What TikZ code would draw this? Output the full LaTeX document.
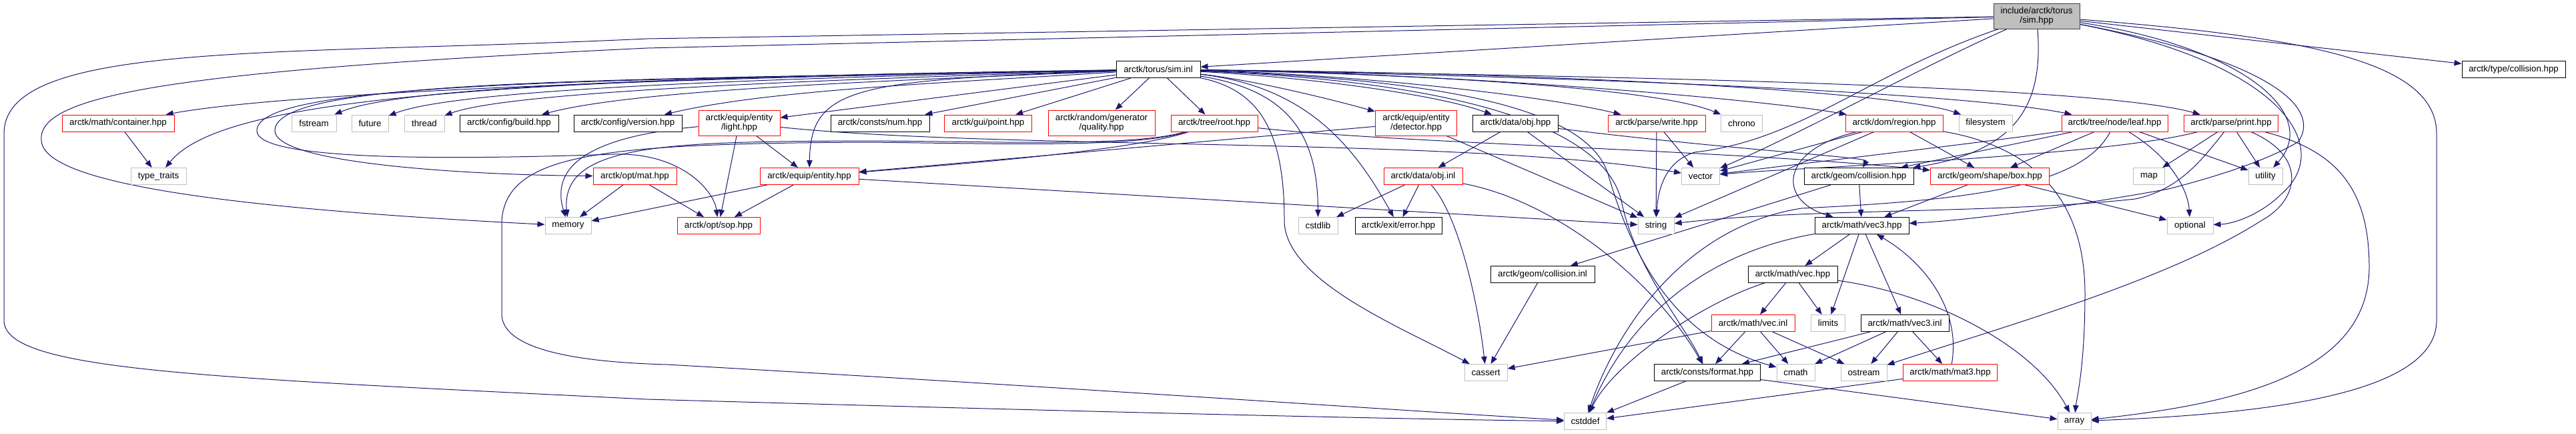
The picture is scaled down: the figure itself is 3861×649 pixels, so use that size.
\documentclass[tikz,border=0pt]{standalone}
\usepackage{fontspec}
\setmainfont{Liberation Sans}
\usepackage{tikz}
\usetikzlibrary{arrows.meta,backgrounds}
\definecolor{EdgeBlue}{RGB}{25,25,112}
\definecolor{SysGray}{RGB}{191,191,191}
\definecolor{MainEdge}{RGB}{64,64,64}

\tikzset{
	file/.style={rectangle, draw, fill=white, line width=1pt, minimum height=25pt,
		inner sep=1pt, align=center, font=\fontsize{13.3pt}{13.5pt}\selectfont},
	docfile/.style={file, draw=black},
	redfile/.style={file, draw=red},
	sysfile/.style={file, draw=SysGray},
	mainfile/.style={file, draw=MainEdge, fill=SysGray},
	dep/.style={EdgeBlue, line width=1pt, -{Triangle[length=11pt,width=8.5pt]}}
}

\begin{document}
\begin{tikzpicture}[x=1pt, y=-1pt]
		\useasboundingbox (0,0) rectangle (3861,649);
		
		% top
		\node[mainfile, minimum width=129, minimum height=38] (simhpp) at (3052.5,24) {include/arctk/torus\\/sim.hpp};
		\node[docfile, minimum width=126] (siminl) at (1736,104) {arctk/torus/sim.inl};
		\node[docfile, minimum width=155] (typecoll) at (3767.5,104) {arctk/type/collision.hpp};
		
		% row 1
		\node[redfile, minimum width=168] (container) at (177,184.5) {arctk/math/container.hpp};
		\node[sysfile, minimum width=67] (fstream) at (470.5,184.5) {fstream};
		\node[sysfile, minimum width=55] (future) at (554.5,184.5) {future};
		\node[sysfile, minimum width=60] (thread) at (636,184.5) {thread};
		\node[docfile, minimum width=148] (build) at (763,184.5) {arctk/config/build.hpp};
		\node[docfile, minimum width=162] (version) at (941,184.5) {arctk/config/version.hpp};
		\node[redfile, minimum width=122, minimum height=38] (light) at (1108,184) {arctk/equip/entity\\/light.hpp};
		\node[docfile, minimum width=148] (num) at (1319,184.5) {arctk/consts/num.hpp};
		\node[redfile, minimum width=131] (point) at (1481,184.5) {arctk/gui/point.hpp};
		\node[redfile, minimum width=160, minimum height=38] (quality) at (1651,184) {arctk/random/generator\\/quality.hpp};
		\node[redfile, minimum width=130] (root) at (1820,184.5) {arctk/tree/root.hpp};
		\node[redfile, minimum width=122, minimum height=38] (detector) at (2122.5,184) {arctk/equip/entity\\/detector.hpp};
		\node[docfile, minimum width=128] (objhpp) at (2271.5,184.5) {arctk/data/obj.hpp};
		\node[redfile, minimum width=146] (write) at (2483,184.5) {arctk/parse/write.hpp};
		\node[sysfile, minimum width=62] (chrono) at (2610.5,184.5) {chrono};
		\node[redfile, minimum width=146] (region) at (2839,184.5) {arctk/dom/region.hpp};
		\node[sysfile, minimum width=80] (filesystem) at (2976,184.5) {filesystem};
		\node[redfile, minimum width=159] (leaf) at (3169.5,184.5) {arctk/tree/node/leaf.hpp};
		\node[redfile, minimum width=141] (print) at (3344,184.5) {arctk/parse/print.hpp};
		
		% row 2
		\node[sysfile, minimum width=83] (typetraits) at (237.5,264) {type\_traits};
		\node[redfile, minimum width=125] (optmat) at (951.5,264) {arctk/opt/mat.hpp};
		\node[redfile, minimum width=148] (entity) at (1213,264) {arctk/equip/entity.hpp};
		\node[redfile, minimum width=118] (objinl) at (2133,264) {arctk/data/obj.inl};
		\node[sysfile, minimum width=57] (vector) at (2549,264) {vector};
		\node[docfile, minimum width=164] (geomcoll) at (2786,264) {arctk/geom/collision.hpp};
		\node[redfile, minimum width=178] (box) at (2982.5,264) {arctk/geom/shape/box.hpp};
		\node[sysfile, minimum width=47] (map) at (3221,264) {map};
		\node[sysfile, minimum width=51] (utility) at (3395.5,264) {utility};
		
		% row 3
		\node[sysfile, minimum width=69] (memory) at (851.5,338) {memory};
		\node[redfile, minimum width=124] (sop) at (1077,338) {arctk/opt/sop.hpp};
		\node[sysfile, minimum width=59] (cstdlib) at (1975.5,338) {cstdlib};
		\node[docfile, minimum width=130] (error) at (2096,338) {arctk/exit/error.hpp};
		\node[sysfile, minimum width=54] (string) at (2482,338) {string};
		\node[docfile, minimum width=141] (vec3hpp) at (2790.5,338) {arctk/math/vec3.hpp};
		\node[sysfile, minimum width=69] (optional) at (3282.5,338) {optional};
		
		% rows 4-7
		\node[docfile, minimum width=156] (collinl) at (2312,411) {arctk/geom/collision.inl};
		\node[docfile, minimum width=134] (vechpp) at (2687,411) {arctk/math/vec.hpp};
		\node[redfile, minimum width=125] (vecinl) at (2627.5,484) {arctk/math/vec.inl};
		\node[sysfile, minimum width=51] (limits) at (2740,484) {limits};
		\node[docfile, minimum width=132] (vec3inl) at (2855,484) {arctk/math/vec3.inl};
		\node[sysfile, minimum width=64] (cassert) at (2227,558) {cassert};
		\node[docfile, minimum width=159] (format) at (2559,558) {arctk/consts/format.hpp};
		\node[sysfile, minimum width=57] (cmath) at (2691.5,558) {cmath};
		\node[sysfile, minimum width=69] (ostream) at (2793.5,558) {ostream};
		\node[redfile, minimum width=141] (mat3) at (2923,558) {arctk/math/mat3.hpp};
		\node[sysfile, minimum width=63] (cstddef) at (2376,631) {cstddef};
		\node[sysfile, minimum width=50] (array) at (3109,631) {array};
		
		\begin{scope}[on background layer]
		\fill[white] (0,0) rectangle (3861,649);
		
		% sim.hpp
		\draw[dep] (simhpp) -- (siminl);
		\draw[dep] (simhpp) -- (970,72) .. controls (280,105) and (55,140) .. (62,210) .. controls (64,270) and (300,310) .. (memory);
		\draw[dep] (simhpp) -- (970,58) .. controls (420,84) and (6,60) .. (6,200) -- (6,480) .. controls (6,555) and (300,565) .. (970,598) .. controls (1600,616) and (2100,628) .. (cstddef);
		\draw[dep] (simhpp) -- (typecoll);
		\draw[dep] (simhpp) .. controls (2800,110) and (2700,210) .. (2540,228) .. controls (2495,242) and (2485,285) .. (string);
		\draw[dep] (simhpp) .. controls (2880,100) and (2700,200) .. (vector);
		\draw[dep] (simhpp) .. controls (3062,150) and (3030,225) .. (geomcoll);
		\draw[dep] (simhpp) .. controls (3400,90) and (3480,160) .. (3445,212) .. controls (3400,240) and (3320,265) .. (3250,283) .. controls (3100,310) and (2950,330) .. (vec3hpp);
		\draw[dep] (simhpp) .. controls (3420,95) and (3500,220) .. (3420,290) .. controls (3390,320) and (3350,335) .. (optional);
		\draw[dep] (simhpp) .. controls (3360,70) and (3480,170) .. (utility);
		\draw[dep] (simhpp) .. controls (3450,55) and (3652,90) .. (3652,200) -- (3652,480) .. controls (3652,590) and (3400,620) .. (array);
		
		% sim.inl, left side
		\draw[dep] (siminl) .. controls (1100,115) and (450,135) .. (container);
		\draw[dep] (siminl) .. controls (700,118) and (330,150) .. (typetraits);
		\draw[dep] (siminl) .. controls (1000,115) and (600,130) .. (fstream);
		\draw[dep] (siminl) .. controls (1100,118) and (680,135) .. (future);
		\draw[dep] (siminl) .. controls (1200,120) and (760,138) .. (thread);
		\draw[dep] (siminl) .. controls (1300,122) and (950,135) .. (build);
		\draw[dep] (siminl) .. controls (1400,125) and (1150,135) .. (version);
		\draw[dep] (siminl) -- (light);
		\draw[dep] (siminl) -- (num);
		\draw[dep] (siminl) -- (point);
		\draw[dep] (siminl) -- (quality);
		\draw[dep] (siminl) -- (root);
		\draw[dep] (siminl) .. controls (900,120) and (415,118) .. (412,195) .. controls (410,245) and (700,262) .. (optmat);
		\draw[dep] (siminl) .. controls (900,120) and (388,122) .. (385,195) .. controls (382,235) and (600,242) .. (920,231) .. controls (1020,228) and (1070,285) .. (sop);
		\draw[dep] (siminl) .. controls (1280,120) and (1215,130) .. (entity);
		
		% sim.inl, right side
		\draw[dep] (siminl) .. controls (1880,120) and (2000,150) .. (detector);
		\draw[dep] (siminl) .. controls (1950,115) and (2150,140) .. (objhpp);
		\draw[dep] (siminl) .. controls (2000,110) and (2300,140) .. (write);
		\draw[dep] (siminl) .. controls (2100,110) and (2480,130) .. (chrono);
		\draw[dep] (siminl) .. controls (2200,110) and (2650,150) .. (region);
		\draw[dep] (siminl) .. controls (2400,110) and (2850,140) .. (filesystem);
		\draw[dep] (siminl) .. controls (2400,115) and (2950,140) .. (leaf);
		\draw[dep] (siminl) .. controls (2500,115) and (3150,130) .. (print);
		\draw[dep] (siminl) .. controls (1890,135) and (1925,200) .. (1925,330) .. controls (1925,420) and (2100,490) .. (cassert);
		\draw[dep] (siminl) .. controls (1930,135) and (1975,200) .. (cstdlib);
		\draw[dep] (siminl) .. controls (1960,130) and (2030,220) .. (error);
		\draw[dep] (siminl) .. controls (2150,120) and (2400,180) .. (2430,300) .. controls (2450,400) and (2520,480) .. (format);
		\draw[dep] (siminl) .. controls (2200,120) and (2380,170) .. (2410,260) .. controls (2450,400) and (2520,510) .. (cmath);
		
		% first level
		\draw[dep] (container) -- (typetraits);
		\draw[dep] (light) -- (entity);
		\draw[dep] (light) -- (sop);
		\draw[dep] (light) .. controls (880,205) and (825,250) .. (memory);
		\draw[dep] (light) .. controls (1500,225) and (2200,205) .. (vector);
		\draw[dep] (root) .. controls (1700,225) and (1450,245) .. (entity);
		\draw[dep] (root) .. controls (1700,220) and (1500,212) .. (1300,211) .. controls (1000,212) and (840,215) .. (memory);
		\draw[dep] (root) .. controls (1700,222) and (1500,215) .. (1300,213) .. controls (900,215) and (760,230) .. (752,330) -- (752,470) .. controls (752,520) and (850,542) .. (1000,546) .. controls (1600,580) and (2100,615) .. (cstddef);
		\draw[dep] (root) .. controls (2100,215) and (2600,225) .. (box);
		\draw[dep] (detector) -- (entity);
		\draw[dep] (detector) -- (string);
		\draw[dep] (objhpp) -- (objinl);
		\draw[dep] (objhpp) -- (string);
		\draw[dep] (objhpp) .. controls (2600,225) and (2800,235) .. (geomcoll);
		\draw[dep] (write) -- (string);
		\draw[dep] (write) -- (vector);
		\draw[dep] (region) -- (vector);
		\draw[dep] (region) -- (string);
		\draw[dep] (region) .. controls (2665,225) and (2665,300) .. (vec3hpp);
		\draw[dep] (region) -- (box);
		\draw[dep] (region) .. controls (3050,220) and (3125,300) .. (3125,440) .. controls (3125,550) and (3112,600) .. (array);
		\draw[dep] (leaf) -- (geomcoll);
		\draw[dep] (leaf) -- (box);
		\draw[dep] (leaf) .. controls (3000,210) and (2700,245) .. (vector);
		\draw[dep] (leaf) -- (utility);
		\draw[dep] (leaf) .. controls (3260,240) and (3280,290) .. (optional);
		\draw[dep] (leaf) .. controls (3120,280) and (2950,300) .. (2700,312) .. controls (2520,340) and (2420,500) .. (cstddef);
		\draw[dep] (print) .. controls (3150,235) and (2700,250) .. (vector);
		\draw[dep] (print) -- (map);
		\draw[dep] (print) -- (utility);
		\draw[dep] (print) .. controls (3300,240) and (3265,285) .. (3200,298) .. controls (3000,320) and (2700,312) .. (string);
		\draw[dep] (print) .. controls (3460,235) and (3445,300) .. (3390,330) .. controls (3250,420) and (3000,490) .. (ostream);
		\draw[dep] (print) .. controls (3500,225) and (3551,280) .. (3551,400) .. controls (3551,560) and (3350,605) .. (array);
		
		% second level
		\draw[dep] (optmat) -- (memory);
		\draw[dep] (optmat) -- (sop);
		\draw[dep] (entity) -- (memory);
		\draw[dep] (entity) -- (sop);
		\draw[dep] (entity) -- (string);
		\draw[dep] (objinl) -- (cstdlib);
		\draw[dep] (objinl) -- (error);
		\draw[dep] (objinl) .. controls (2185,320) and (2215,450) .. (cassert);
		\draw[dep] (objinl) .. controls (2330,300) and (2480,420) .. (format);
		\draw[dep] (geomcoll) -- (collinl);
		\draw[dep] (geomcoll) -- (vec3hpp);
		\draw[dep] (box) -- (vec3hpp);
		\draw[dep] (box) -- (optional);
		
		% math
		\draw[dep] (vec3hpp) -- (vechpp);
		\draw[dep] (vec3hpp) -- (limits);
		\draw[dep] (vec3hpp) -- (vec3inl);
		\draw[dep] (vec3hpp) .. controls (2550,380) and (2440,480) .. (cstddef);
		\draw[dep] (vechpp) -- (vecinl);
		\draw[dep] (vechpp) -- (limits);
		\draw[dep] (vechpp) .. controls (2900,440) and (3050,520) .. (array);
		\draw[dep] (vechpp) .. controls (2560,450) and (2420,540) .. (cstddef);
		\draw[dep] (vecinl) -- (cassert);
		\draw[dep] (vecinl) -- (format);
		\draw[dep] (vecinl) -- (cmath);
		\draw[dep] (vecinl) -- (ostream);
		\draw[dep] (vec3inl) -- (format);
		\draw[dep] (vec3inl) -- (cmath);
		\draw[dep] (vec3inl) -- (ostream);
		\draw[dep] (vec3inl) -- (mat3);
		\draw[dep] (mat3) -- (cstddef);
		\draw[dep] (mat3) .. controls (2940,460) and (2880,390) .. (vec3hpp);
		\draw[dep] (collinl) -- (cassert);
		\draw[dep] (format) -- (cstddef);
		\draw[dep] (format) -- (array);
		\end{scope}
		
	\end{tikzpicture}
\end{document}
